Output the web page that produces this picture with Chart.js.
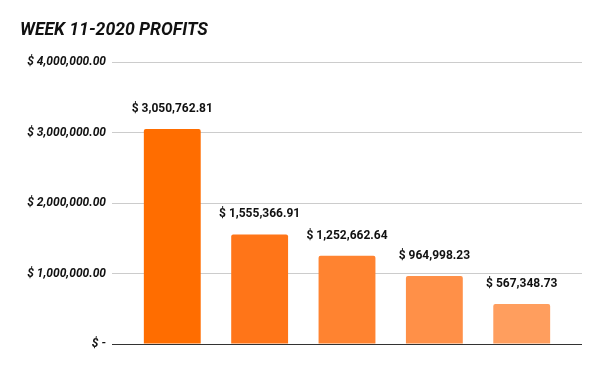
<!DOCTYPE html>
<html><head><meta charset="utf-8">
<script src="https://cdn.jsdelivr.net/npm/chart.js@4"></script>
<style>html,body{margin:0;padding:0;background:#fff}#w{position:relative;width:600px;height:371px}</style>
</head><body><div id="w"><canvas id="c" width="600" height="371"></canvas></div>
<script>
const title = "WEEK 11-2020 PROFITS";
const categories = ["1", "2", "3", "4", "5"];
const profits = [3050762.81, 1555366.91, 1252662.64, 964998.23, 567348.73];
const barColors = ["#FF6D00", "#FF7518", "#FF8330", "#FF9048", "#FF9E5E"];
const yTicks = [0, 1000000, 2000000, 3000000, 4000000];

function money(v){
  return "$ " + v.toLocaleString("en-US",{minimumFractionDigits:2,maximumFractionDigits:2});
}

const labelPlugin = {
  id: "vals",
  afterDatasetsDraw(chart){
    const ctx = chart.ctx;
    const meta = chart.getDatasetMeta(0);
    ctx.save();
    ctx.font = "bold 12px Roboto";
    ctx.fillStyle = "#111";
    ctx.textAlign = "center";
    ctx.textBaseline = "bottom";
    meta.data.forEach((el,i)=>{
      ctx.fillText(money(profits[i]), el.x, el.y - 14);
    });
    ctx.restore();
  }
};

new Chart(document.getElementById("c"), {
  type: "bar",
  data: {
    datasets: [{
      data: profits.map((v,i)=>({x:i, y:v})),
      backgroundColor: barColors,
      borderRadius: {topLeft:2, topRight:2},
      borderSkipped: "bottom",
      categoryPercentage: 1,
      barPercentage: 0.651
    }]
  },
  options: {
    responsive: false,
    animation: false,
    layout: {padding: {left: 20, right: 18, top: 0, bottom: 27}},
    plugins: {
      legend: {display: false},
      tooltip: {enabled: false},
      title: {
        display: true, text: title, align: "start",
        color: "#111",
        font: {family: "Roboto", size: 17.6, weight: "bold", style: "italic"},
        padding: {top: 20, bottom: 21}
      }
    },
    scales: {
      x: {
        type: "linear", min: -0.69, max: 4.69, offset: false,
        afterBuildTicks(s){ s.ticks = categories.map((c,i)=>({value:i})); },
        grid: {display: false, drawTicks: false},
        border: {display: false},
        ticks: {display: false}
      },
      y: {
        min: 0, max: 4000000,
        afterBuildTicks(s){ s.ticks = yTicks.map(v=>({value:v})); },
        afterFit(s){ s.width = 92; },
        grid: {
          color: (c)=> c.tick && c.tick.value === 0 ? "#333" : "#ccc",
          lineWidth: 1, drawTicks: false
        },
        border: {display: false},
        ticks: {
          padding: 6,
          color: "#111",
          font: {family: "Roboto", size: 12, weight: "bold", style: "italic"},
          callback: (v)=> v === 0 ? "$ -" : money(v)
        }
      }
    }
  },
  plugins: [labelPlugin]
});
</script></body></html>
